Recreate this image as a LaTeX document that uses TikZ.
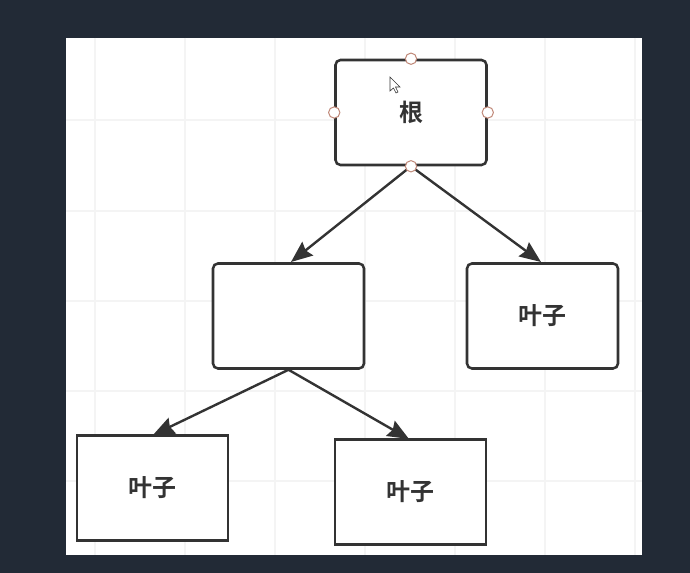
\documentclass[tikz,border=0pt]{standalone}
\usepackage{fontspec}
\newfontfamily\cjk{Noto Sans CJK SC}[BoldFont=* Bold]
\usetikzlibrary{arrows.meta}
\definecolor{darkbg}{HTML}{222A36}
\definecolor{edge}{HTML}{333333}
\definecolor{gridc}{HTML}{F4F4F4}
\definecolor{handle}{HTML}{C08878}
\tikzset{
  roundbox/.style={draw=edge, line width=1.9pt, rounded corners=3.75pt, fill=white, minimum width=113.25pt, minimum height=78.75pt, inner sep=0pt, font=\cjk\bfseries\fontsize{18pt}{20pt}\selectfont, text=edge},
  squarebox/.style={roundbox, rounded corners=0pt},
  link/.style={draw=edge, line width=1.8pt, -{Stealth[length=16pt,width=13pt,inset=2pt]}},
  hdl/.style={circle, draw=handle, fill=white, line width=0.75pt, minimum size=8.5pt, inner sep=0pt}
}
\begin{document}
\begin{tikzpicture}[x=0.75pt,y=-0.75pt]
\fill[darkbg] (0,0) rectangle (690,573);
\useasboundingbox (0,0) rectangle (690,573);
\fill[white] (66,38) rectangle (642,555);
\begin{scope}
\clip (66,38) rectangle (642,555);
\foreach \y in {120,211,301,391,481} \draw[gridc, line width=1.1pt] (66,\y) -- (642,\y);
\foreach \x in {95,185,275,365,455,545,635} \draw[gridc, line width=1.1pt] (\x,38) -- (\x,555);
\end{scope}
\node[roundbox] (root) at (411,112.5) {根};
\node[roundbox] (mid) at (288.5,316) {};
\node[roundbox] (rleaf) at (542.5,316) {叶子};
\node[squarebox] (bl) at (152.5,488) {叶子};
\node[squarebox] (br) at (410.5,492) {叶子};
\coordinate (t1) at (291,262);
\coordinate (t2) at (541,262);
\coordinate (t3) at (153,435);
\coordinate (t4) at (409,439);
\draw[link] (root.south) -- (t1);
\draw[link] (root.south) -- (t2);
\draw[link] (mid.south) -- (t3);
\draw[link] (mid.south) -- (t4);
\node[hdl] (h1) at (root.north) {};
\node[hdl] (h2) at (root.west) {};
\node[hdl] (h3) at (root.east) {};
\node[hdl] (h4) at (root.south) {};
\draw[fill=white, draw=edge, line width=0.45pt] (390,77) -- (390,91) -- (393.5,88) -- (396,93) -- (398,92) -- (395.5,87) -- (400,87) -- cycle;
\end{tikzpicture}
\end{document}
